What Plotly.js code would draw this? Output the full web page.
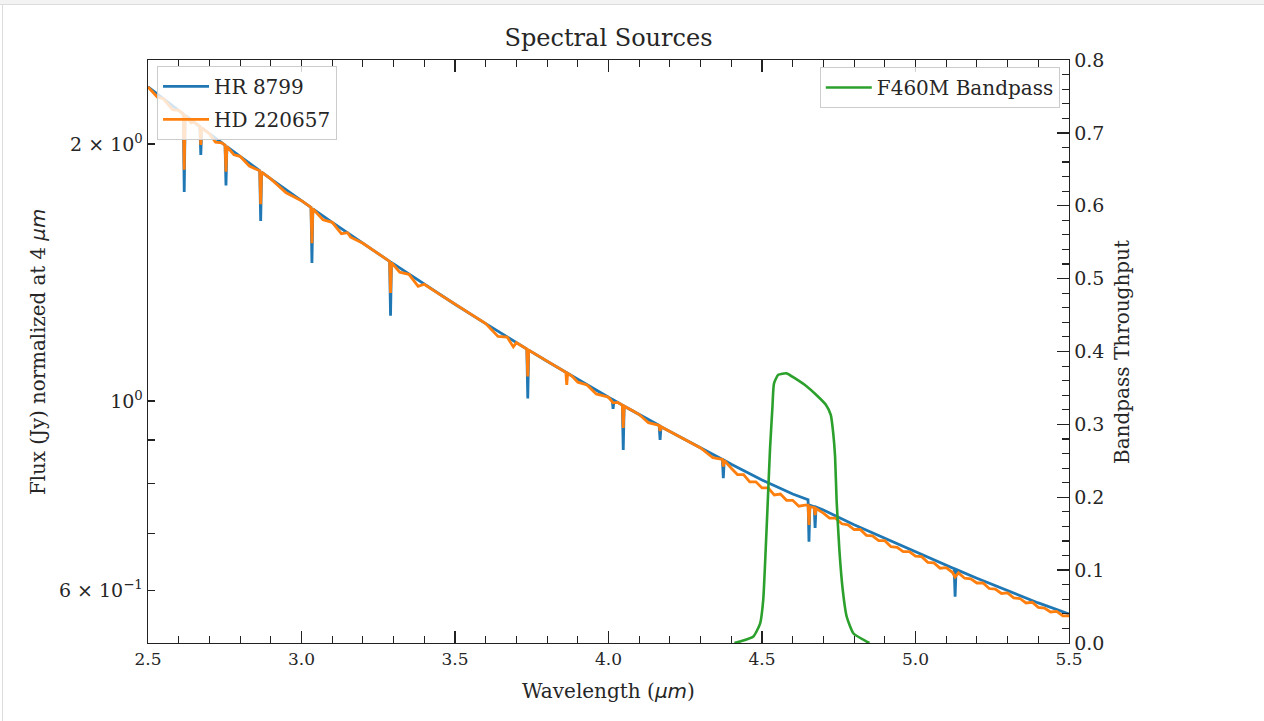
<!DOCTYPE html>
<html>
<head>
<meta charset="utf-8">
<script src="https://cdn.plot.ly/plotly-3.0.1.min.js"></script>
<style>
  html, body { margin: 0; padding: 0; background: #ffffff; }
  #frame-top { position: absolute; left: 0; top: 0; width: 1264px; height: 4px; background: #f3f3f3; border-bottom: 1px solid #dcdcdc; }
  #frame-left { position: absolute; left: 2px; top: 5px; width: 1px; height: 716px; background: #dcdcdc; }
  #chart { position: absolute; left: 0; top: 0; width: 1264px; height: 721px; }
</style>
</head>
<body>
<div id="frame-top"></div>
<div id="frame-left"></div>
<div id="chart"></div>
<script>
// HR 8799 spectrum (wavelength in micron, flux normalized at 4 micron)
const wl_hr8799 = [2.50, 2.55, 2.60, 2.615, 2.618, 2.621, 2.65, 2.669, 2.672, 2.675, 2.70, 2.751, 2.754, 2.757, 2.80, 2.864, 2.867, 2.870, 2.90, 3.00, 3.031, 3.034, 3.037, 3.10, 3.20, 3.287, 3.290, 3.293, 3.30, 3.40, 3.50, 3.60, 3.70, 3.734, 3.737, 3.740, 3.80, 3.90, 4.00, 4.012, 4.015, 4.018, 4.045, 4.048, 4.051, 4.10, 4.165, 4.168, 4.171, 4.20, 4.30, 4.371, 4.374, 4.377, 4.40, 4.50, 4.60, 4.645, 4.650, 4.653, 4.656, 4.670, 4.673, 4.676, 4.70, 4.80, 4.90, 5.00, 5.10, 5.126, 5.129, 5.132, 5.20, 5.30, 5.40, 5.50];
const flux_hr8799 = [2.333, 2.259, 2.189, 2.168, 1.757, 2.160, 2.121, 2.096, 1.942, 2.088, 2.056, 1.993, 1.788, 1.986, 1.934, 1.860, 1.625, 1.853, 1.820, 1.716, 1.685, 1.451, 1.679, 1.619, 1.530, 1.457, 1.258, 1.452, 1.447, 1.370, 1.298, 1.232, 1.170, 1.150, 1.007, 1.147, 1.113, 1.060, 1.010, 1.004, 0.979, 1.002, 0.989, 0.876, 0.986, 0.964, 0.936, 0.900, 0.933, 0.921, 0.881, 0.854, 0.812, 0.852, 0.843, 0.808, 0.778, 0.768, 0.766, 0.684, 0.755, 0.752, 0.710, 0.751, 0.745, 0.716, 0.690, 0.665, 0.642, 0.636, 0.590, 0.635, 0.620, 0.600, 0.580, 0.563];

// HD 220657 spectrum
const wl_hd220657 = [2.50, 2.53, 2.55, 2.58, 2.60, 2.615, 2.618, 2.621, 2.64, 2.65, 2.669, 2.672, 2.675, 2.70, 2.72, 2.74, 2.751, 2.754, 2.757, 2.78, 2.80, 2.83, 2.864, 2.867, 2.870, 2.90, 2.95, 3.00, 3.031, 3.034, 3.037, 3.07, 3.10, 3.13, 3.15, 3.16, 3.20, 3.287, 3.290, 3.293, 3.32, 3.35, 3.38, 3.40, 3.45, 3.50, 3.55, 3.60, 3.64, 3.67, 3.69, 3.70, 3.734, 3.737, 3.740, 3.78, 3.80, 3.83, 3.861, 3.864, 3.867, 3.88, 3.90, 3.93, 3.96, 4.00, 4.015, 4.03, 4.045, 4.048, 4.051, 4.08, 4.10, 4.13, 4.165, 4.168, 4.171, 4.20, 4.25, 4.30, 4.34, 4.371, 4.374, 4.377, 4.40, 4.42, 4.44, 4.46, 4.48, 4.50, 4.52, 4.54, 4.56, 4.58, 4.60, 4.62, 4.64, 4.650, 4.653, 4.656, 4.670, 4.673, 4.676, 4.70, 4.72, 4.74, 4.76, 4.78, 4.80, 4.82, 4.84, 4.86, 4.88, 4.90, 4.92, 4.94, 4.96, 4.98, 5.00, 5.02, 5.04, 5.06, 5.08, 5.10, 5.12, 5.129, 5.14, 5.16, 5.18, 5.20, 5.22, 5.24, 5.26, 5.28, 5.30, 5.32, 5.34, 5.36, 5.38, 5.40, 5.42, 5.44, 5.46, 5.48, 5.50];
const flux_hd220657 = [2.333, 2.270, 2.259, 2.193, 2.189, 2.168, 1.865, 2.160, 2.117, 2.121, 2.096, 1.995, 2.088, 2.056, 2.009, 2.006, 1.993, 1.856, 1.986, 1.942, 1.934, 1.884, 1.860, 1.700, 1.853, 1.820, 1.753, 1.716, 1.685, 1.530, 1.679, 1.630, 1.619, 1.570, 1.574, 1.555, 1.530, 1.457, 1.338, 1.452, 1.415, 1.407, 1.362, 1.370, 1.333, 1.298, 1.264, 1.232, 1.190, 1.188, 1.157, 1.170, 1.150, 1.068, 1.147, 1.124, 1.113, 1.097, 1.080, 1.044, 1.077, 1.070, 1.052, 1.044, 1.019, 1.010, 0.995, 0.996, 0.989, 0.930, 0.986, 0.973, 0.964, 0.943, 0.936, 0.922, 0.933, 0.921, 0.900, 0.881, 0.858, 0.854, 0.838, 0.852, 0.834, 0.820, 0.820, 0.804, 0.804, 0.791, 0.791, 0.776, 0.778, 0.765, 0.765, 0.753, 0.755, 0.755, 0.716, 0.752, 0.750, 0.735, 0.748, 0.739, 0.729, 0.729, 0.718, 0.716, 0.707, 0.707, 0.696, 0.695, 0.686, 0.686, 0.675, 0.674, 0.666, 0.666, 0.658, 0.657, 0.647, 0.646, 0.637, 0.638, 0.630, 0.622, 0.629, 0.620, 0.619, 0.612, 0.612, 0.603, 0.602, 0.595, 0.596, 0.588, 0.587, 0.580, 0.581, 0.573, 0.572, 0.566, 0.567, 0.560, 0.560];

// F460M bandpass throughput
const wl_f460m = [4.410, 4.428, 4.472, 4.494, 4.504, 4.512, 4.519, 4.526, 4.534, 4.539, 4.553, 4.580, 4.608, 4.646, 4.678, 4.708, 4.724, 4.732, 4.738, 4.743, 4.752, 4.763, 4.776, 4.798, 4.841, 4.850];
const thru_f460m = [0.000, 0.002, 0.009, 0.027, 0.059, 0.128, 0.196, 0.265, 0.324, 0.356, 0.368, 0.370, 0.363, 0.352, 0.340, 0.327, 0.313, 0.288, 0.256, 0.196, 0.128, 0.073, 0.036, 0.013, 0.002, 0.000];

// Axis ticks
const xTickVals = [2.5, 3.0, 3.5, 4.0, 4.5, 5.0, 5.5];
const xTickText = ['2.5', '3.0', '3.5', '4.0', '4.5', '5.0', '5.5'];
const yTickVals = [0.6, 1, 2];
const yTickText = ['6 \u00d7 10<sup>\u22121</sup>', '10<sup>0</sup>', '2 \u00d7 10<sup>0</sup>'];
const yMinorVals = [0.7, 0.8, 0.9];
const yRange = [0.5206, 2.508];
const y2Range = [0, 0.8];

const SERIF = 'DejaVu Serif, serif';
const TXT = '#262626';
const AX = '#222222';
const MU = '<span style="font-family:DejaVu Sans;font-style:italic">\u03bcm</span>';

const traces = [
  { x: wl_hr8799, y: flux_hr8799, type: 'scatter', mode: 'lines', name: 'HR 8799',
    line: { color: '#1f77b4', width: 2.8 }, legendgroup: 'a', legend: 'legend' },
  { x: wl_hd220657, y: flux_hd220657, type: 'scatter', mode: 'lines', name: 'HD 220657',
    line: { color: '#ff7f0e', width: 2.8 }, legendgroup: 'b', legend: 'legend' },
  { x: wl_f460m, y: thru_f460m, type: 'scatter', mode: 'lines', name: 'F460M Bandpass',
    yaxis: 'y2', line: { color: '#2ca02c', width: 2.6, shape: 'spline', smoothing: 0.5 }, legend: 'legend2' }
];

const layout = {
  width: 1264, height: 721,
  margin: { l: 148, r: 195, t: 60, b: 78, pad: 0 },
  paper_bgcolor: 'rgba(0,0,0,0)',
  plot_bgcolor: '#ffffff',
  font: { family: SERIF, color: TXT, size: 16 },
  showlegend: true,
  title: { text: 'Spectral Sources', font: { family: SERIF, size: 24, color: TXT },
           x: 0.5, xref: 'paper', xanchor: 'center', y: 1 - 38 / 721, yref: 'container', yanchor: 'middle' },
  xaxis: {
    range: [2.5, 5.5], tickmode: 'array', tickvals: xTickVals, ticktext: xTickText,
    ticks: 'inside', ticklen: 12, tickwidth: 1.3, tickcolor: AX,
    minor: { dtick: 0.1, tick0: 2.5, ticks: 'inside', ticklen: 7, tickwidth: 1.1, tickcolor: AX },
    showline: true, linecolor: AX, linewidth: 1.4, mirror: 'ticks',
    showgrid: false, zeroline: false,
    tickfont: { family: SERIF, size: 17, color: TXT }
  },
  yaxis: {
    type: 'log', range: [Math.log10(yRange[0]), Math.log10(yRange[1])],
    tickmode: 'array', tickvals: yTickVals, ticktext: yTickText,
    ticks: 'inside', ticklen: 7, tickwidth: 1.2, tickcolor: AX,
    minor: { tickmode: 'array', tickvals: yMinorVals, ticks: 'inside', ticklen: 7, tickwidth: 1.1, tickcolor: AX },
    showline: true, linecolor: AX, linewidth: 1.4, mirror: false,
    showgrid: false, zeroline: false,
    tickfont: { family: SERIF, size: 19, color: TXT }
  },
  yaxis3: {
    type: 'log', range: [Math.log10(yRange[0]), Math.log10(yRange[1])],
    overlaying: 'y', side: 'left', anchor: 'x',
    tickmode: 'array', tickvals: [1], ticks: 'inside', ticklen: 12, tickwidth: 1.3, tickcolor: AX,
    showticklabels: false, showline: false, showgrid: false, zeroline: false
  },
  yaxis2: {
    range: y2Range, overlaying: 'y', side: 'right', anchor: 'x',
    tickmode: 'linear', tick0: 0, dtick: 0.1, tickformat: '.1f',
    ticks: 'inside', ticklen: 12, tickwidth: 1.3, tickcolor: AX,
    minor: { dtick: 0.02, tick0: 0, ticks: 'inside', ticklen: 7, tickwidth: 1.1, tickcolor: AX },
    showline: true, linecolor: AX, linewidth: 1.4,
    showgrid: false, zeroline: false,
    tickfont: { family: SERIF, size: 19, color: TXT }
  },
  annotations: [
    { text: 'Wavelength (' + MU + ')', xref: 'paper', yref: 'paper', x: 0.5, y: (643 - 691) / 583,
      xanchor: 'center', yanchor: 'middle', showarrow: false, font: { family: SERIF, size: 20, color: TXT } },
    { text: 'Flux (Jy) normalized at 4 ' + MU, xref: 'paper', yref: 'paper', x: (38 - 148) / 921, y: (643 - 352) / 583,
      xanchor: 'center', yanchor: 'middle', textangle: -90, showarrow: false, font: { family: SERIF, size: 19.8, color: TXT } },
    { text: 'Bandpass Throughput', xref: 'paper', yref: 'paper', x: (1122 - 148) / 921, y: (643 - 352) / 583,
      xanchor: 'center', yanchor: 'middle', textangle: -90, showarrow: false, font: { family: SERIF, size: 20, color: TXT } }
  ],
  legend: {
    x: 0.0098, y: 0.99, xanchor: 'left', yanchor: 'top', xref: 'paper', yref: 'paper',
    bgcolor: 'rgba(255,255,255,0.8)', bordercolor: '#cccccc', borderwidth: 1,
    font: { family: SERIF, size: 20, color: TXT }, traceorder: 'grouped', tracegroupgap: 4, itemwidth: 46
  },
  legend2: {
    x: 0.99, y: 0.988, xanchor: 'right', yanchor: 'top', xref: 'paper', yref: 'paper',
    bgcolor: 'rgba(255,255,255,0.8)', bordercolor: '#cccccc', borderwidth: 1,
    font: { family: SERIF, size: 20, color: TXT }, itemwidth: 46
  }
};

Plotly.newPlot('chart', traces, layout, { displayModeBar: false, staticPlot: true });
</script>
</body>
</html>
